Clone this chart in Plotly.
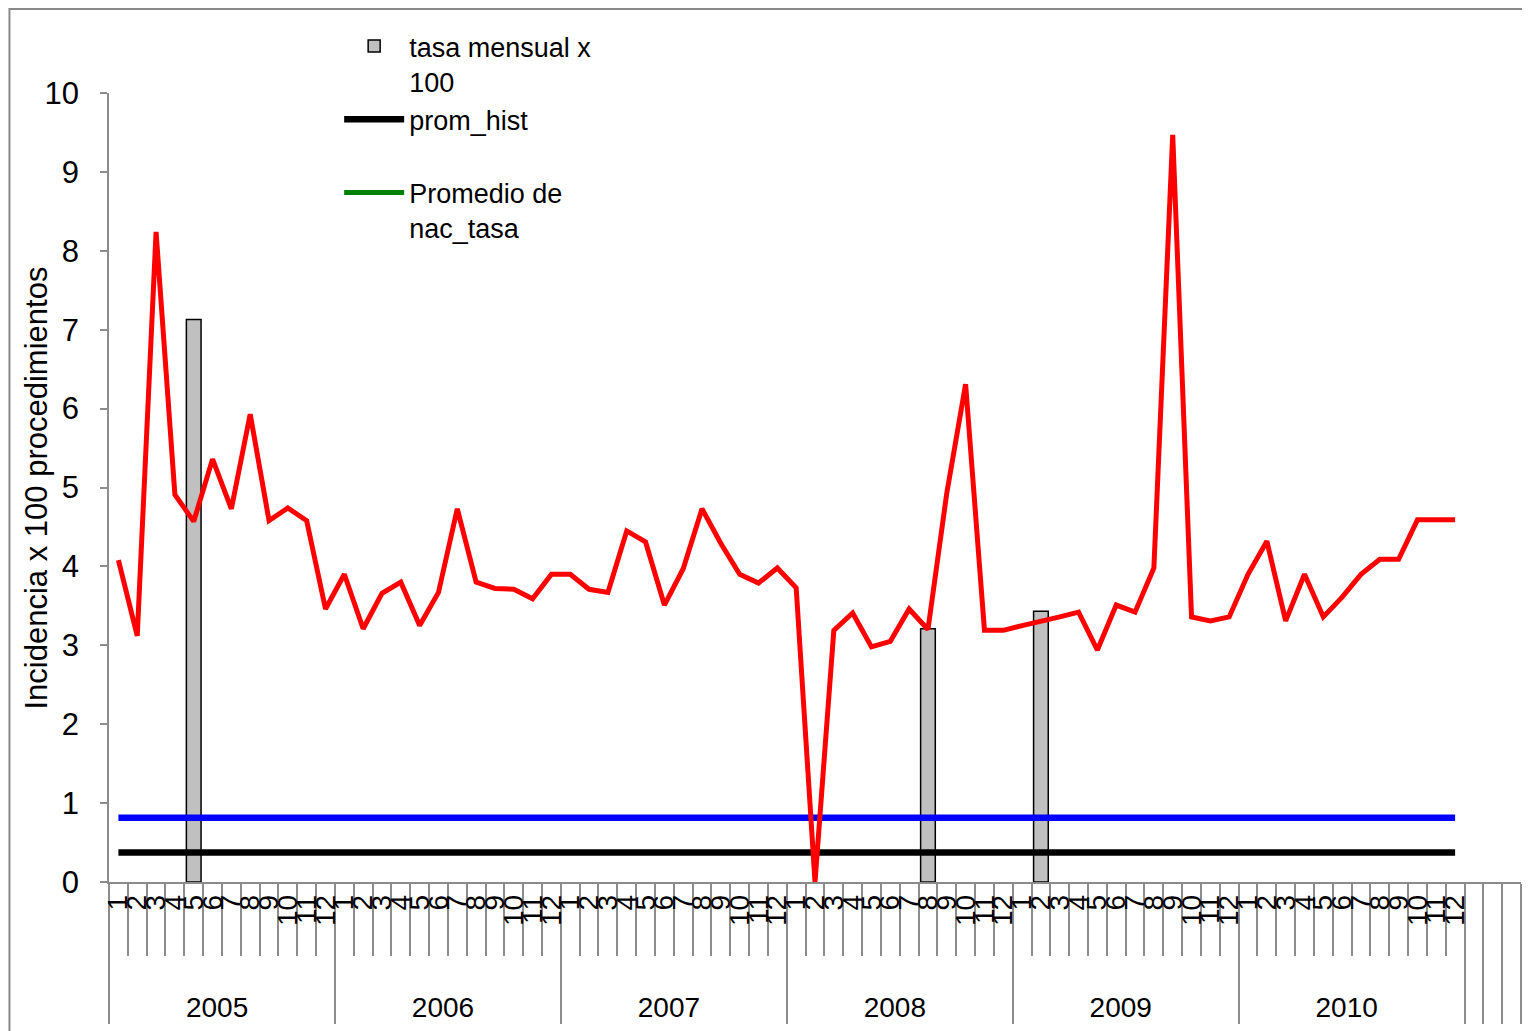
import plotly.graph_objects as go

years = ["2005", "2006", "2007", "2008", "2009", "2010"]
months = ["1", "2", "3", "4", "5", "6", "7", "8", "9", "10", "11", "12"]
pad_years = [" ", "  ", "   "]  # empty slots to the right of 2010

# monthly rate (red line), 2005-01 .. 2010-12
nac_tasa = [4.08, 3.12, 8.24, 4.91, 4.57, 5.36, 4.73, 5.93, 4.58, 4.74, 4.58, 3.46,
            3.90, 3.21, 3.66, 3.80, 3.25, 3.67, 4.73, 3.80, 3.72, 3.71, 3.59, 3.90,
            3.90, 3.71, 3.67, 4.45, 4.31, 3.51, 3.97, 4.73, 4.29, 3.90, 3.79, 3.98,
            3.73, 0.00, 3.19, 3.41, 2.98, 3.05, 3.46, 3.20, 4.93, 6.31, 3.19, 3.19,
            3.25, 3.30, 3.36, 3.42, 2.94, 3.51, 3.42, 3.98, 9.47, 3.36, 3.31, 3.36,
            3.90, 4.32, 3.31, 3.90, 3.36, 3.61, 3.90, 4.09, 4.09, 4.59, 4.59, 4.59]

# gray bars
bar_years = ["2005", "2008", "2009"]
bar_months = ["5", "8", "2"]
tasa_mensual = [7.13, 3.21, 3.43]

prom_hist = 0.375
promedio_nac = 0.815

# invisible padding under the rotated month labels pushes the year row down
pad = "\u00a0" * 5
cat_year = [y for y in years for m in months]
cat_month = [pad + m for y in years for m in months]
all_year = cat_year + pad_years
all_month = cat_month + [pad] * len(pad_years)

fig = go.Figure()

# first trace holds every category so the axis keeps its order
fig.add_trace(go.Scatter(
    x=[all_year, all_month], y=[None] * len(all_year),
    mode="lines", line=dict(color="#008000", width=5),
    name="Promedio de<br>nac_tasa", legendrank=3,
))
fig.add_trace(go.Bar(
    x=[bar_years, [pad + m for m in bar_months]], y=tasa_mensual,
    marker=dict(color="#C0C0C0", line=dict(color="black", width=1.5)),
    name="tasa mensual x<br>100", legendrank=1,
))
fig.add_trace(go.Scatter(
    x=[cat_year, cat_month], y=[promedio_nac] * len(cat_year),
    mode="lines", line=dict(color="#0000FF", width=6.5),
    showlegend=False,
))
fig.add_trace(go.Scatter(
    x=[cat_year, cat_month], y=[prom_hist] * len(cat_year),
    mode="lines", line=dict(color="black", width=6.5),
    name="prom_hist<br> ", legendrank=2,
))
fig.add_trace(go.Scatter(
    x=[cat_year, cat_month], y=nac_tasa,
    mode="lines", line=dict(color="#FF0000", width=5),
    showlegend=False,
))

fig.update_layout(
    width=1530, height=1031,
    margin=dict(l=101, r=17, t=85, b=157),
    paper_bgcolor="white",
    plot_bgcolor="white",
    font=dict(family="Liberation Sans, Arial, sans-serif", color="black"),
    bargap=0.22,
    showlegend=True,
    legend=dict(x=0.163, y=1.09, xanchor="left", yanchor="top",
                font=dict(size=27), bgcolor="rgba(0,0,0,0)",
                valign="top", itemwidth=60, tracegroupgap=0),
    shapes=[dict(type="rect", xref="paper", yref="paper",
                 x0=-0.0705, x1=1.05, y0=-0.3, y1=1.1065,
                 line=dict(color="#8A8A8A", width=2), layer="below")],
    annotations=[dict(text="Incidencia x 100 procedimientos", textangle=-90,
                      xref="paper", yref="paper", x=-0.051, y=0.5,
                      xanchor="center", yanchor="middle", showarrow=False,
                      font=dict(size=31))],
)

fig.update_xaxes(
    type="multicategory", range=[-0.5, len(all_year) - 0.5], dtick=1,
    showline=True, linecolor="#8C8C8C", linewidth=1.5,
    ticks="outside", ticklen=72, tickcolor="#8C8C8C", tickwidth=1.5,
    tickangle=-90, tickfont=dict(size=28),
    showgrid=False, showdividers=True, dividercolor="#8C8C8C", dividerwidth=1.5,
)
fig.update_yaxes(
    range=[0, 10], dtick=1,
    showline=True, linecolor="#8C8C8C", linewidth=1.5,
    ticks="outside", ticklen=7, tickcolor="#8C8C8C", tickwidth=1.5,
    tickfont=dict(size=31), ticklabelstandoff=15,
    showgrid=False, zeroline=False,
)

fig.write_html("out.html")
